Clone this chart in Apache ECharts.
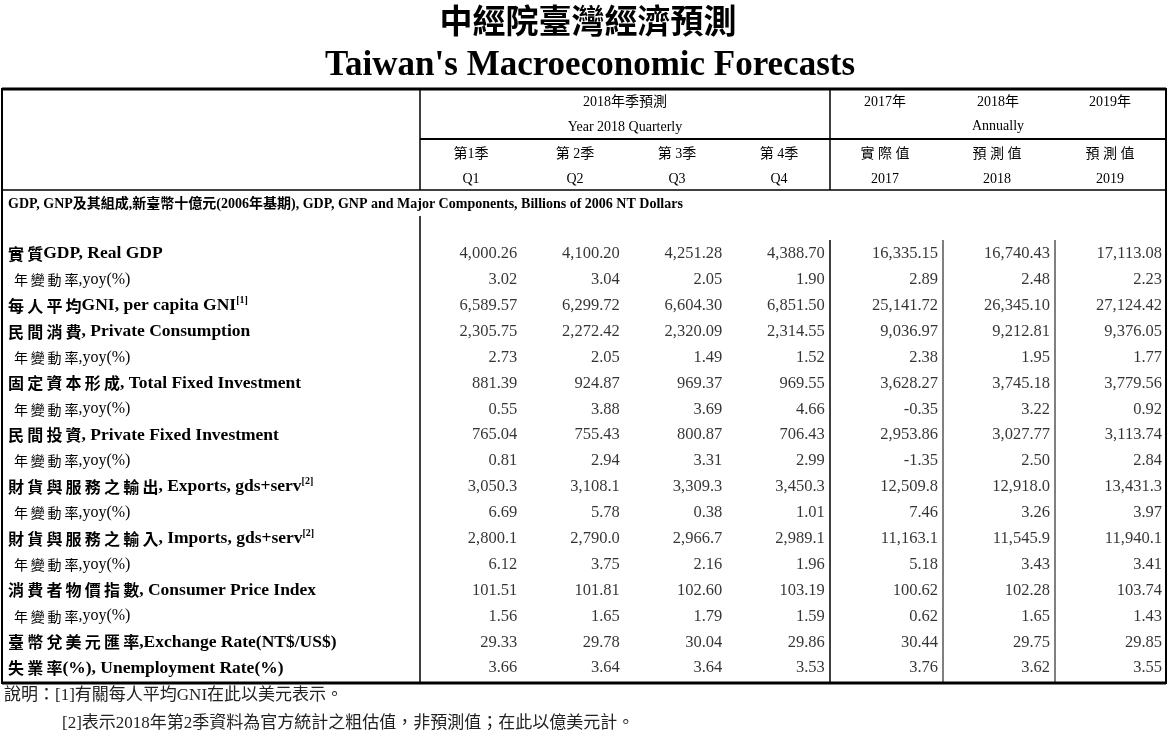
<!DOCTYPE html>
<html><head><meta charset="utf-8">
<script src="https://cdn.jsdelivr.net/npm/echarts@6/dist/echarts.min.js"></script>
<style>html,body{margin:0;padding:0;background:#fff}#c{width:1170px;height:736px}</style>
</head><body><div id="c"></div>
<script>
const rowLabels = [
 ['實質','GDP, Real GDP',''],['yoy'],
 ['每人平均','GNI, per capita GNI','[1]'],
 ['民間消費',', Private Consumption',''],['yoy'],
 ['固定資本形成',', Total Fixed Investment',''],['yoy'],
 ['民間投資',', Private Fixed Investment',''],['yoy'],
 ['財貨與服務之輸出',', Exports, gds+serv','[2]'],['yoy'],
 ['財貨與服務之輸入',', Imports, gds+serv','[2]'],['yoy'],
 ['消費者物價指數',', Consumer Price Index',''],['yoy'],
 ['臺幣兌美元匯率',',Exchange Rate(NT$/US$)',''],
 ['失業率','(%), Unemployment Rate(%)','']
];
const q1 = ['4,000.26','3.02','6,589.57','2,305.75','2.73','881.39','0.55','765.04','0.81','3,050.3','6.69','2,800.1','6.12','101.51','1.56','29.33','3.66'];
const q2 = ['4,100.20','3.04','6,299.72','2,272.42','2.05','924.87','3.88','755.43','2.94','3,108.1','5.78','2,790.0','3.75','101.81','1.65','29.78','3.64'];
const q3 = ['4,251.28','2.05','6,604.30','2,320.09','1.49','969.37','3.69','800.87','3.31','3,309.3','0.38','2,966.7','2.16','102.60','1.79','30.04','3.64'];
const q4 = ['4,388.70','1.90','6,851.50','2,314.55','1.52','969.55','4.66','706.43','2.99','3,450.3','1.01','2,989.1','1.96','103.19','1.59','29.86','3.53'];
const y2017 = ['16,335.15','2.89','25,141.72','9,036.97','2.38','3,628.27','-0.35','2,953.86','-1.35','12,509.8','7.46','11,163.1','5.18','100.62','0.62','30.44','3.76'];
const y2018 = ['16,740.43','2.48','26,345.10','9,212.81','1.95','3,745.18','3.22','3,027.77','2.50','12,918.0','3.26','11,545.9','3.43','102.28','1.65','29.75','3.62'];
const y2019 = ['17,113.08','2.23','27,124.42','9,376.05','1.77','3,779.56','0.92','3,113.74','2.84','13,431.3','3.97','11,940.1','3.41','103.74','1.43','29.85','3.55'];
const quarterCols = ['Q1','Q2','Q3','Q4'];
const annualCols = ['2017','2018','2019'];

const rowIdx = rowLabels.map((r,i)=>'r'+i);
const serif = '"Liberation Serif","Noto Sans CJK TC",serif';
const cjk = '"Noto Sans CJK TC",sans-serif';
function pts(cols){return cols.map((col,ci)=>col.map((v,ri)=>[ci,ri,v])).flat();}
const qData = pts([q1,q2,q3,q4]);
const aData = pts([y2017,y2018,y2019]);
const sp = s => s.split('').join('\u2009');

const lblFmt = function(v){
  const r = rowLabels[+v.slice(1)];
  if(r[0]==='yoy') return '{yc|'+sp('年變動率')+'}{ye|,yoy(%)}';
  return '{c|'+sp(r[0])+'}{e|'+r[1]+'}'+(r[2]?'{s|'+r[2]+'}':'');
};
const rich = {
  c:{fontFamily:cjk,fontWeight:'bold',fontSize:16,color:'#000'},
  e:{fontFamily:serif,fontWeight:'bold',fontSize:17.5,color:'#000'},
  s:{fontFamily:serif,fontWeight:'bold',fontSize:10,color:'#000',verticalAlign:'top',padding:[0,0,10,0]},
  yc:{fontFamily:cjk,fontSize:14,color:'#000',padding:[0,0,0,6]},
  ye:{fontFamily:serif,fontSize:16,color:'#000'}
};
function line(x1,y1,x2,y2,w){return {type:'line',shape:{x1,y1,x2,y2},style:{stroke:'#000',lineWidth:w||1}};}
function txt(x,y,t,o){return Object.assign({type:'text',x,y,style:Object.assign({text:t,fill:'#000',font:'15px '+serif,textAlign:'center',textVerticalAlign:'middle'},o||{})});}
const f14 = {font:'14px '+serif};
const hdr = [
  txt(588,20,'中經院臺灣經濟預測',{font:'bold 33px '+cjk}),
  txt(590,66,"Taiwan's Macroeconomic Forecasts",{font:'bold 35px '+serif}),
  txt(625,102,'2018年季預測',f14),
  txt(625,127,'Year 2018 Quarterly',f14),
  txt(885,102,'2017年',f14),txt(998,102,'2018年',f14),txt(1110,102,'2019年',f14),
  txt(998,126,'Annually',f14),
  txt(471,154,'第1季',f14),txt(575,154,'第 2季',f14),txt(677,154,'第 3季',f14),txt(779,154,'第 4季',f14),
  txt(885,154,'實 際 值',f14),txt(997,154,'預 測 值',f14),txt(1110,154,'預 測 值',f14),
  txt(471,179,'Q1',f14),txt(575,179,'Q2',f14),txt(677,179,'Q3',f14),txt(779,179,'Q4',f14),
  txt(885,179,'2017',f14),txt(997,179,'2018',f14),txt(1110,179,'2019',f14),
  txt(8,204,'GDP, GNP及其組成,新臺幣十億元(2006年基期), GDP, GNP and Major Components, Billions of 2006 NT Dollars',{font:'bold 14px '+serif,textAlign:'left'}),
  txt(4,696,'說明：[1]有關每人平均GNI在此以美元表示。',{font:'17px '+serif,textAlign:'left',fill:'#222'}),
  txt(62,724,'[2]表示2018年第2季資料為官方統計之粗估值，非預測值；在此以億美元計。',{font:'17px '+serif,textAlign:'left',fill:'#222'}),
  line(2,89,1166,89,3), line(2,683,1166,683,3),
  line(2,88,2,684,2), line(1166,88,1166,684,2),
  line(420,139,1166,139,2), line(2,190,1166,190,1.5),
  line(420,88,420,190,1.5), line(420,216,420,683,1.5),
  line(830,88,830,190,1.5), line(830,240,830,683,1.5),
  line(943,240,943,683,1), line(1055,240,1055,683,1)
];
const topPx=241, hPx=440;
const chart = echarts.init(document.getElementById('c'));
chart.setOption({
  animation:false,
  grid:[{left:420,width:410,top:topPx,height:hPx},{left:830,width:336,top:topPx,height:hPx}],
  xAxis:[
    {type:'category',gridIndex:0,data:quarterCols,show:false},
    {type:'category',gridIndex:1,data:annualCols,show:false}
  ],
  yAxis:[
    {type:'category',gridIndex:0,data:rowIdx,inverse:true,axisLine:{show:false},axisTick:{show:false},
     axisLabel:{align:'left',margin:412,formatter:lblFmt,rich:rich}},
    {type:'category',gridIndex:1,data:rowIdx,inverse:true,show:false}
  ],
  series:[
    {type:'scatter',xAxisIndex:0,yAxisIndex:0,data:qData,symbolSize:0,
     label:{show:true,position:'inside',align:'right',offset:[46,0],formatter:p=>p.data[2],fontFamily:serif,fontSize:16.5,color:'#000'}},
    {type:'scatter',xAxisIndex:1,yAxisIndex:1,data:aData,symbolSize:0,
     label:{show:true,position:'inside',align:'right',offset:[52,0],formatter:p=>p.data[2],fontFamily:serif,fontSize:16.5,color:'#000'}}
  ],
  graphic:hdr
});
</script></body></html>
